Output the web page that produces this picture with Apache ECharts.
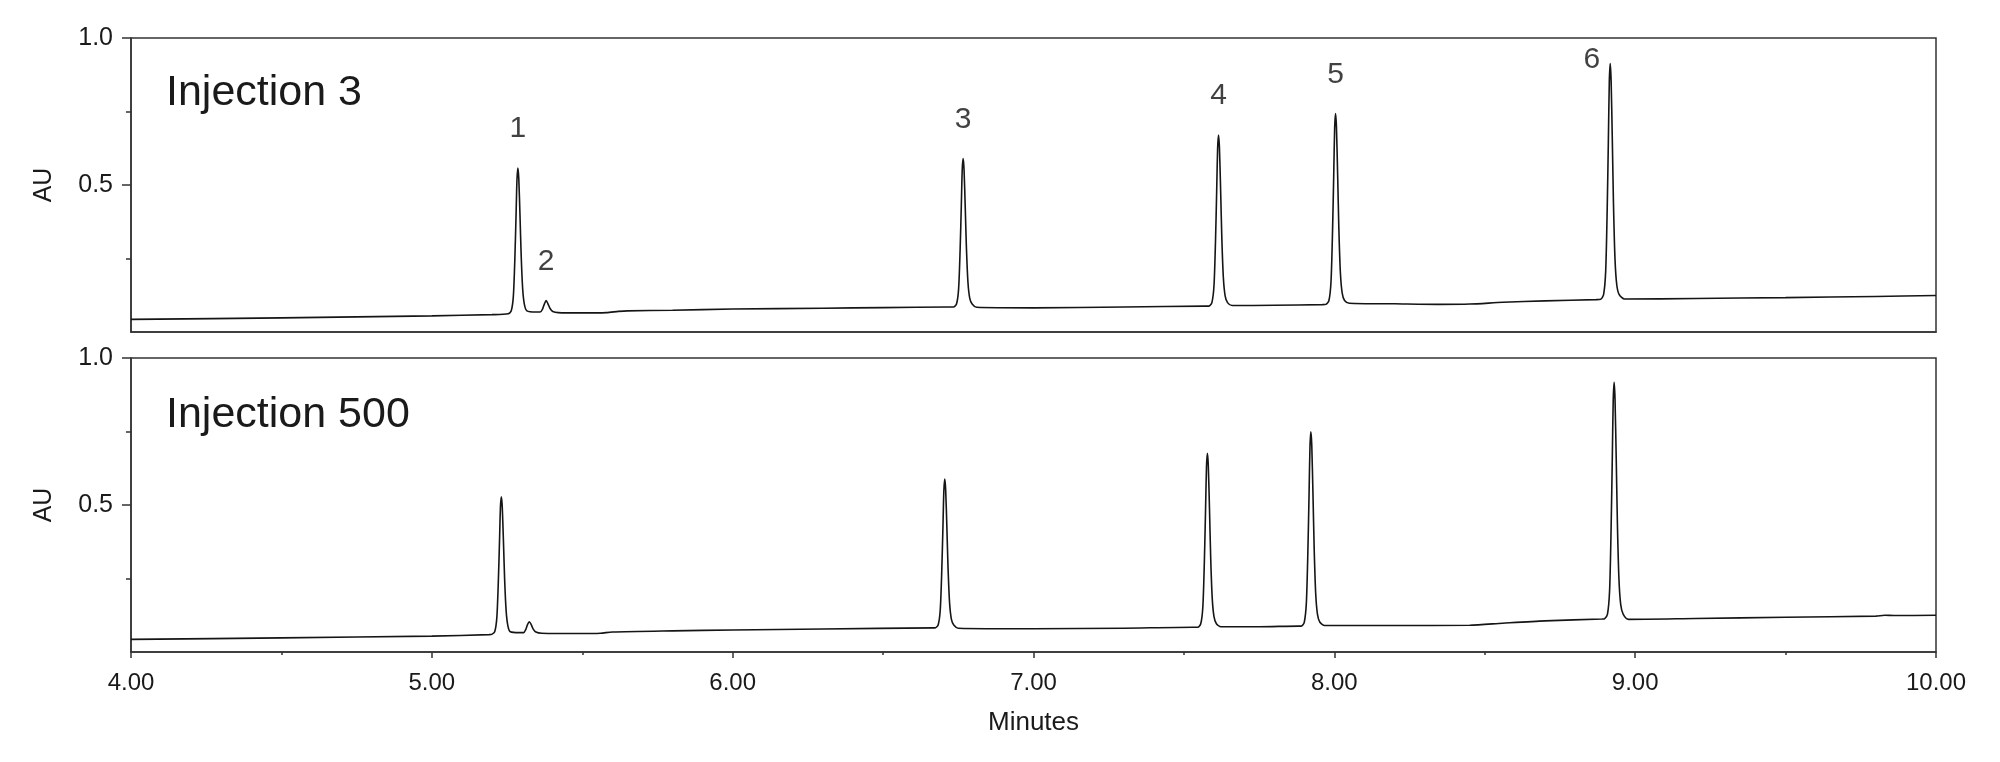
<!DOCTYPE html>
<html>
<head>
<meta charset="utf-8">
<script src="https://cdn.jsdelivr.net/npm/echarts@6/dist/echarts.min.js"></script>
<style>
html,body{margin:0;padding:0;background:#fff;}
#chart{width:2000px;height:762px;}
</style>
</head>
<body>
<div id="chart"></div>
<script>
// ---- Data (minutes, AU) ----
const inj3Time = [4.00,4.50,5.00,5.20,
  5.254,5.264,5.271,5.276,5.280,5.283,5.286,5.289,5.293,5.297,5.302,5.308,5.316,
  5.345,5.360,5.368,5.374,5.380,5.386,5.393,5.402,5.420,
  5.50,5.58,5.62,5.65,5.80,6.00,6.30,6.50,6.72,
  6.734,6.744,6.751,6.756,6.760,6.763,6.766,6.769,6.773,6.777,6.782,6.788,6.796,6.811,
  7.00,7.30,7.57,
  7.583,7.593,7.600,7.605,7.609,7.612,7.615,7.618,7.622,7.626,7.631,7.637,7.645,7.660,
  7.80,7.96,
  7.972,7.982,7.989,7.994,7.998,8.001,8.004,8.007,8.011,8.015,8.020,8.026,8.034,8.050,
  8.20,8.35,8.45,8.56,8.70,8.87,
  8.885,8.895,8.902,8.907,8.911,8.914,8.917,8.920,8.924,8.928,8.933,8.939,8.947,8.965,
  9.20,9.50,9.80,10.00];
const inj3AU = [0.043,0.048,0.055,0.059,
  0.062,0.072,0.122,0.250,0.399,0.518,0.558,0.523,0.399,0.260,0.146,0.092,0.072,
  0.068,0.068,0.078,0.095,0.107,0.096,0.080,0.070,0.066,
  0.065,0.066,0.070,0.072,0.074,0.078,0.081,0.083,0.085,
  0.085,0.095,0.146,0.277,0.428,0.550,0.590,0.555,0.428,0.287,0.171,0.115,0.095,0.084,
  0.082,0.085,0.088,
  0.088,0.100,0.158,0.309,0.484,0.623,0.670,0.629,0.484,0.321,0.187,0.123,0.100,0.090,
  0.091,0.093,
  0.094,0.107,0.172,0.341,0.535,0.691,0.743,0.698,0.535,0.354,0.204,0.133,0.107,0.098,
  0.096,0.094,0.095,0.101,0.106,0.110,
  0.111,0.127,0.207,0.416,0.656,0.849,0.913,0.857,0.656,0.432,0.247,0.159,0.127,0.112,
  0.114,0.117,0.121,0.124];

const inj500Time = [4.00,4.50,5.00,5.19,
  5.199,5.209,5.216,5.221,5.225,5.228,5.231,5.234,5.238,5.242,5.247,5.253,5.261,
  5.290,5.305,5.312,5.318,5.324,5.330,5.337,5.346,5.365,
  5.50,5.56,5.60,5.80,6.00,6.30,6.67,
  6.673,6.683,6.690,6.695,6.699,6.702,6.705,6.708,6.712,6.716,6.721,6.727,6.735,6.750,
  7.00,7.30,7.53,
  7.546,7.556,7.563,7.568,7.572,7.575,7.578,7.581,7.585,7.589,7.594,7.600,7.608,7.623,
  7.75,7.88,
  7.890,7.900,7.907,7.912,7.916,7.919,7.922,7.925,7.929,7.933,7.938,7.944,7.952,7.968,
  8.20,8.45,8.56,8.70,8.89,
  8.898,8.908,8.915,8.920,8.924,8.927,8.930,8.933,8.937,8.941,8.946,8.952,8.960,8.978,
  9.20,9.50,9.80,9.83,9.86,10.00];
const inj500AU = [0.043,0.048,0.054,0.059,
  0.060,0.069,0.116,0.238,0.378,0.491,0.528,0.495,0.378,0.247,0.140,0.088,0.069,
  0.066,0.066,0.076,0.093,0.103,0.094,0.078,0.068,0.064,
  0.063,0.064,0.068,0.072,0.075,0.078,0.082,
  0.082,0.092,0.143,0.274,0.426,0.548,0.588,0.553,0.426,0.284,0.168,0.112,0.092,0.081,
  0.079,0.081,0.084,
  0.084,0.096,0.155,0.309,0.487,0.629,0.676,0.635,0.487,0.321,0.185,0.120,0.096,0.086,
  0.086,0.088,
  0.088,0.101,0.167,0.339,0.537,0.696,0.749,0.703,0.537,0.352,0.200,0.128,0.101,0.090,
  0.090,0.091,0.098,0.106,0.112,
  0.113,0.129,0.209,0.419,0.660,0.853,0.917,0.861,0.660,0.435,0.250,0.161,0.129,0.111,
  0.114,0.118,0.122,0.125,0.124,0.125];

// Peak labels (Injection 3 only)
const peakNames = ['1','2','3','4','5','6'];
const peakTimes = [5.286,5.380,6.766,7.615,8.004,8.917];
const peakApex  = [0.558,0.107,0.590,0.670,0.743,0.913];

const panelTitles = ['Injection 3','Injection 500'];
const xTickLabels = ['4.00','5.00','6.00','7.00','8.00','9.00','10.00'];
const yTickValues = [0.5,1.0];
const xAxisName = 'Minutes';
const yAxisName = 'AU';

// ---- Chart ----
const FONT = '"Liberation Sans", Arial, Helvetica, sans-serif';
const INK = '#151515';
const AXIS = '#333333';
const TXT = '#1a1a1a';

function zip(a,b){ return a.map((v,i)=>[v,b[i]]); }

const gridTop = [38, 358];
const grids = gridTop.map(t => ({
  left: 131, right: 64, top: t, height: 294,
  show: true, borderColor: AXIS, borderWidth: 1.5, backgroundColor: 'transparent'
}));

const xAxes = [0,1].map(i => ({
  type: 'value', gridIndex: i, min: 4, max: 10, interval: 1,
  axisLine: {show: true, onZero: false, lineStyle: {color: AXIS, width: 1.5}},
  axisTick: {show: i === 1, length: 6, lineStyle: {color: AXIS, width: 1.5}},
  minorTick: {show: i === 1, splitNumber: 2, length: 3, lineStyle: {color: AXIS, width: 1.5}},
  splitLine: {show: false},
  axisLabel: {show: i === 1, margin: 19, fontSize: 24, fontFamily: FONT, color: TXT,
    formatter: v => xTickLabels[Math.round(v - 4)] || ''},
  name: i === 1 ? xAxisName : '',
  nameLocation: 'middle', nameGap: 58,
  nameTextStyle: {fontSize: 26, fontFamily: FONT, color: TXT}
}));

const yAxes = [0,1].map(i => ({
  type: 'value', gridIndex: i, min: 0, max: 1, interval: 0.5,
  axisLine: {show: true, lineStyle: {color: AXIS, width: 1.5}},
  axisTick: {show: true, length: 9, customValues: yTickValues, lineStyle: {color: AXIS, width: 1.5}},
  minorTick: {show: true, splitNumber: 2, length: 5, lineStyle: {color: AXIS, width: 1.5}},
  splitLine: {show: false},
  axisLabel: {show: true, margin: 18, fontSize: 25, fontFamily: FONT, color: TXT,
    customValues: yTickValues, formatter: v => v.toFixed(1)},
  name: yAxisName, nameLocation: 'middle', nameGap: 74,
  nameTextStyle: {fontSize: 25, fontFamily: FONT, color: TXT}
}));

const lineStyle = {color: INK, width: 1.6};

const option = {
  backgroundColor: '#ffffff',
  animation: false,
  grid: grids,
  xAxis: xAxes,
  yAxis: yAxes,
  title: panelTitles.map((t, i) => ({
    text: t, left: 161, top: [67, 389][i],
    textStyle: {fontSize: 43, fontWeight: 'normal', fontFamily: FONT, color: TXT}
  })),
  series: [
    {type: 'line', xAxisIndex: 0, yAxisIndex: 0, data: zip(inj3Time, inj3AU),
      showSymbol: false, symbol: 'none', smooth: 0.25, lineStyle, silent: true},
    {type: 'line', xAxisIndex: 1, yAxisIndex: 1, data: zip(inj500Time, inj500AU),
      showSymbol: false, symbol: 'none', smooth: 0.25, lineStyle, silent: true},
    {type: 'scatter', xAxisIndex: 0, yAxisIndex: 0, symbolSize: 0, silent: true,
      data: peakNames.map((n, i) => {
        const item = {name: n, value: [peakTimes[i], peakApex[i]]};
        if (n === '6') item.label = {position: 'left', offset: [14, -4]};
        return item;
      }),
      label: {show: true, position: 'top', distance: 24, formatter: p => p.name,
        fontSize: 30, fontFamily: FONT, color: '#111111'}}
  ]
};

const chart = echarts.init(document.getElementById('chart'), null, {renderer: 'canvas'});
chart.setOption(option);
</script>
</body>
</html>
